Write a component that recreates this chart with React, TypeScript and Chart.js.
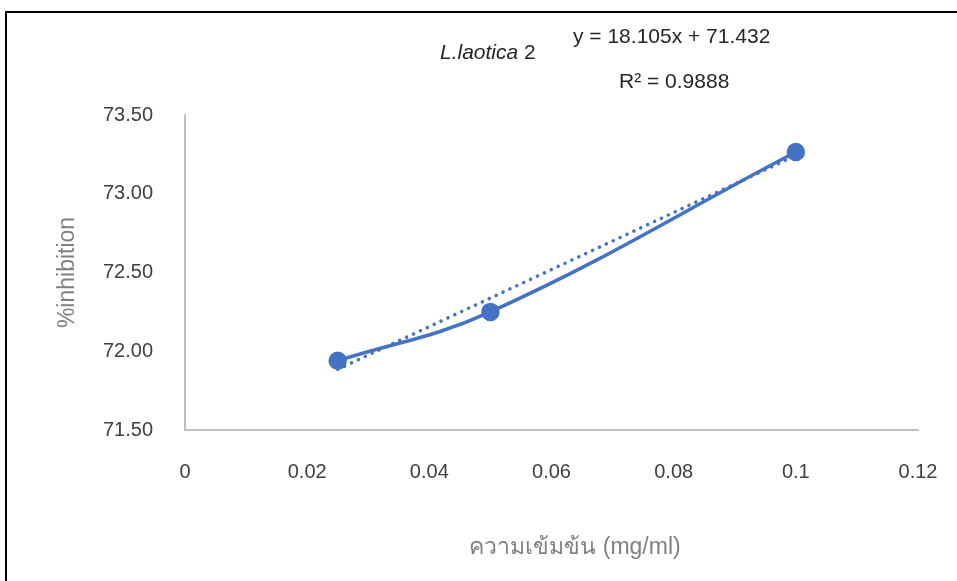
import React, { useEffect, useRef } from "react";
import { Chart, registerables } from "chart.js";

Chart.register(...registerables);

const concentrations = [0.025, 0.05, 0.1];
const inhibition = [71.94, 72.25, 73.265];
const trendX = [0.025, 0.1];
const trendY = [71.885, 73.243];
const xTicks = [0, 0.02, 0.04, 0.06, 0.08, 0.1, 0.12];
const yTickLabels = ["71.50", "72.00", "72.50", "73.00", "73.50"];
const seriesTitleItalic = "L.laotica";
const seriesTitleRest = " 2";
const equationText = "y = 18.105x + 71.432";
const r2Text = "R² = 0.9888";
const xTitle = "ความเข้มข้น (mg/ml)";
const yTitle = "%inhibition";

const FONT = "'Liberation Sans', Arial, 'Noto Sans', sans-serif";
const BLUE = "#4472C4";

const annotationPlugin = {
  id: "annotations",
  afterDraw(chart: any) {
    const ctx = chart.ctx;
    ctx.save();
    ctx.fillStyle = "#262626";
    ctx.textBaseline = "middle";
    ctx.textAlign = "left";
    ctx.font = `italic 21px ${FONT}`;
    ctx.fillText(seriesTitleItalic, 440, 53);
    const w = ctx.measureText(seriesTitleItalic).width;
    ctx.font = `21px ${FONT}`;
    ctx.fillText(seriesTitleRest, 440 + w, 53);
    ctx.fillText(equationText, 573, 37);
    ctx.fillText(r2Text, 619, 82);
    // x axis title
    ctx.fillStyle = "#808080";
    ctx.font = `23px ${FONT}`;
    ctx.textAlign = "center";
    ctx.fillText(xTitle, 575, 548);
    ctx.restore();
  },
};

export default function App() {
  const ref = useRef<HTMLCanvasElement>(null);
  useEffect(() => {
    document.body.style.margin = "0";
    document.body.style.overflow = "hidden";
    const chart = new Chart(ref.current!, {
      type: "scatter",
      data: {
        datasets: [
          {
            label: "series",
            data: concentrations.map((x, i) => ({ x, y: inhibition[i] })),
            showLine: true,
            borderColor: BLUE,
            backgroundColor: BLUE,
            borderWidth: 3.5,
            pointRadius: 7.5,
            pointHoverRadius: 7.5,
            tension: 0.4,
            cubicInterpolationMode: "default",
          },
          {
            label: "trend",
            data: trendX.map((x, i) => ({ x, y: trendY[i] })),
            showLine: true,
            borderColor: BLUE,
            borderWidth: 3.5,
            borderDash: [0.1, 7.5],
            borderCapStyle: "round",
            pointRadius: 0,
          },
        ],
      },
      options: {
        animation: false,
        responsive: false,
        maintainAspectRatio: false,
        layout: { padding: { left: 0, top: 115, right: 39, bottom: 0 } },
        plugins: { legend: { display: false }, tooltip: { enabled: false } },
        scales: {
          x: {
            type: "linear",
            min: 0,
            max: 0.12,
            afterBuildTicks: (s: any) => {
              s.ticks = xTicks.map((v) => ({ value: v }));
            },
            afterFit: (s: any) => {
              s.height = 151;
            },
            grid: { display: false, drawTicks: true, tickLength: 30 },
            border: { display: true, color: "#bfbfbf", width: 2 },
            ticks: {
              color: "#404040",
              font: { family: FONT, size: 20 },
              padding: 0,
              maxRotation: 0,
              callback: (v: any) => String(Number(v)),
            },
            title: { display: false, text: xTitle },
          },
          y: {
            type: "linear",
            min: 71.5,
            max: 73.5,
            afterBuildTicks: (s: any) => {
              s.ticks = yTickLabels.map((v) => ({ value: Number(v) }));
            },
            afterFit: (s: any) => {
              s.width = 185;
            },
            grid: { display: false, drawTicks: false },
            border: { display: true, color: "#bfbfbf", width: 2 },
            ticks: {
              color: "#404040",
              font: { family: FONT, size: 20 },
              padding: 32,
              callback: (v: any) => Number(v).toFixed(2),
            },
            title: {
              display: true,
              text: yTitle,
              color: "#808080",
              font: { family: FONT, size: 23 },
              padding: { top: 54, bottom: 0 },
            },
          },
        },
      },
      plugins: [annotationPlugin],
    } as any);
    return () => chart.destroy();
  }, []);
  return (
    <div style={{ position: "relative", width: 957, height: 581, overflow: "hidden", background: "#fff" }}>
      <canvas ref={ref} width={957} height={581} style={{ position: "absolute", left: 0, top: 0 }} />
      <div
        style={{
          position: "absolute",
          left: 5,
          top: 11,
          width: 1200,
          height: 900,
          border: "2px solid #000",
          pointerEvents: "none",
        }}
      />
    </div>
  );
}
